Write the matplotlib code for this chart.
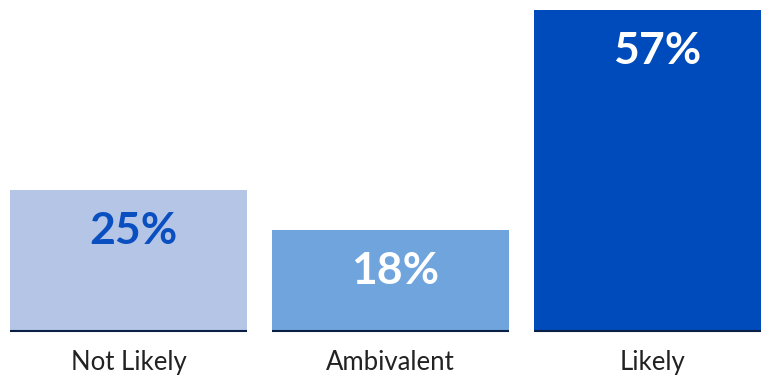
import matplotlib
matplotlib.use("Agg")
import matplotlib.pyplot as plt

categories = ["Not Likely", "Ambivalent", "Likely"]
values = [25, 18, 57]
labels = ["25%", "18%", "57%"]
bar_colors = ["#B4C5E6", "#6FA4DC", "#004BBB"]
text_colors = ["#0A4FC0", "#FFFFFF", "#FFFFFF"]

W, H, DPI = 761, 376, 100
fig = plt.figure(figsize=(W / DPI, H / DPI), dpi=DPI)
ax = fig.add_axes([0, 0, 1, 1])

# pixel layout: bars 237 px wide, 262 px step, first bar starts at 10 px
step_px, bar_px = 262, 237
width = bar_px / step_px
x0 = -width / 2 - 10 / step_px
ax.set_xlim(x0, x0 + W / step_px)
# baseline 45 px from bottom, 57 reaches 10 px from top
ppu = (H - 45 - 10) / 57
ax.set_ylim(-45 / ppu, (H - 45) / ppu)
ax.axis("off")

xs = range(len(categories))
ax.bar(xs, values, width=width, color=bar_colors, linewidth=0, zorder=1)
for x, v, lab, tc, cat in zip(xs, values, labels, text_colors, categories):
    ax.plot([x - width / 2, x + width / 2], [0, 0], color="#0A1F44", lw=1.5,
            solid_capstyle="butt", zorder=2)
    ax.annotate(lab, (x, v), xytext=(3.5, -39), textcoords="offset points",
                ha="center", va="baseline", fontsize=32, fontweight="bold",
                family="Lato", color=tc, zorder=3)
    ax.annotate(cat, (x, 0), xytext=(0, -28), textcoords="offset points",
                ha="center", va="baseline", fontsize=18.5, family="Lato",
                color="#222222")

fig.savefig("out.png", dpi=DPI)
